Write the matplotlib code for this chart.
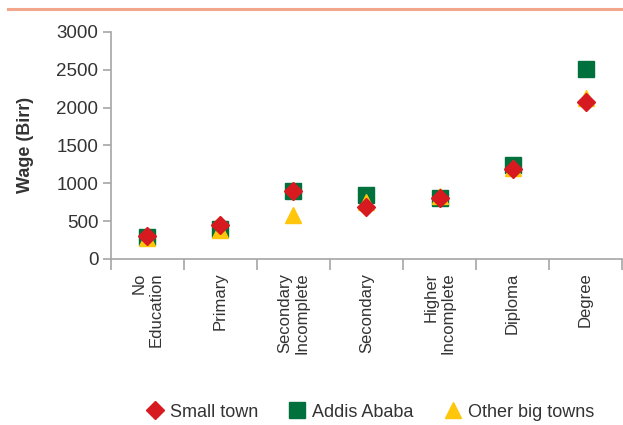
import matplotlib.pyplot as plt
from matplotlib.lines import Line2D

plt.rcParams['font.family'] = ['Liberation Sans', 'DejaVu Sans']

# data
categories = ['No\nEducation', 'Primary', 'Secondary\nIncomplete', 'Secondary',
              'Higher\nIncomplete', 'Diploma', 'Degree']
small_town = [300, 450, 890, 680, 810, 1190, 2070]
addis_ababa = [295, 395, 890, 850, 810, 1245, 2510]
other_big = [270, 380, 585, 750, 830, 1200, 2130]

red = '#D71920'
green = '#00703C'
yellow = '#FFC60B'
grey = '#A6A6A6'
text_col = '#333333'

fig = plt.figure(figsize=(6.23, 4.25), dpi=100)
ax = fig.add_axes([0.178, 0.391, 0.8205, 0.534])

x = list(range(len(categories)))
ax.plot(x, addis_ababa, 's', color=green, markersize=11, label='Addis Ababa', zorder=3)
ax.plot(x, other_big, '^', color=yellow, markersize=12, label='Other big towns', zorder=4)
ax.plot(x, small_town, 'D', color=red, markersize=9.5, label='Small town', zorder=5)

ax.set_xlim(-0.5, len(categories) - 0.5)
ax.set_ylim(0, 3000)
ax.set_yticks(range(0, 3001, 500))
ax.set_ylabel('Wage (Birr)', fontsize=13, fontweight='bold', color=text_col, labelpad=16)

ax.set_xticks(x)
ax.set_xticklabels(categories, rotation=90, ha='center', va='top',
                   multialignment='right', fontsize=12, color=text_col)
ax.set_xticks([i - 0.5 for i in range(len(categories) + 1)], minor=True)
ax.tick_params(axis='x', which='major', length=0, pad=10)
ax.tick_params(axis='x', which='minor', length=8, color=grey, width=1.2)
ax.tick_params(axis='y', length=6, color=grey, width=1.2, labelsize=13.5,
               labelcolor=text_col, pad=3)

for s in ['top', 'right']:
    ax.spines[s].set_visible(False)
for s in ['left', 'bottom']:
    ax.spines[s].set_color(grey)
    ax.spines[s].set_linewidth(1.2)

handles, labels = ax.get_legend_handles_labels()
order = [2, 0, 1]
fig.legend([handles[i] for i in order], [labels[i] for i in order],
           loc='center', bbox_to_anchor=(0.59, 0.03), ncol=3, frameon=False,
           fontsize=13, handletextpad=0.1, columnspacing=1.4, handlelength=1.5,
           labelcolor=text_col)

# salmon rule across the top
fig.add_artist(Line2D([0.013, 1.0], [0.98, 0.98], color='#F2A68C', linewidth=2.2))

fig.savefig('out.png', dpi=100)
